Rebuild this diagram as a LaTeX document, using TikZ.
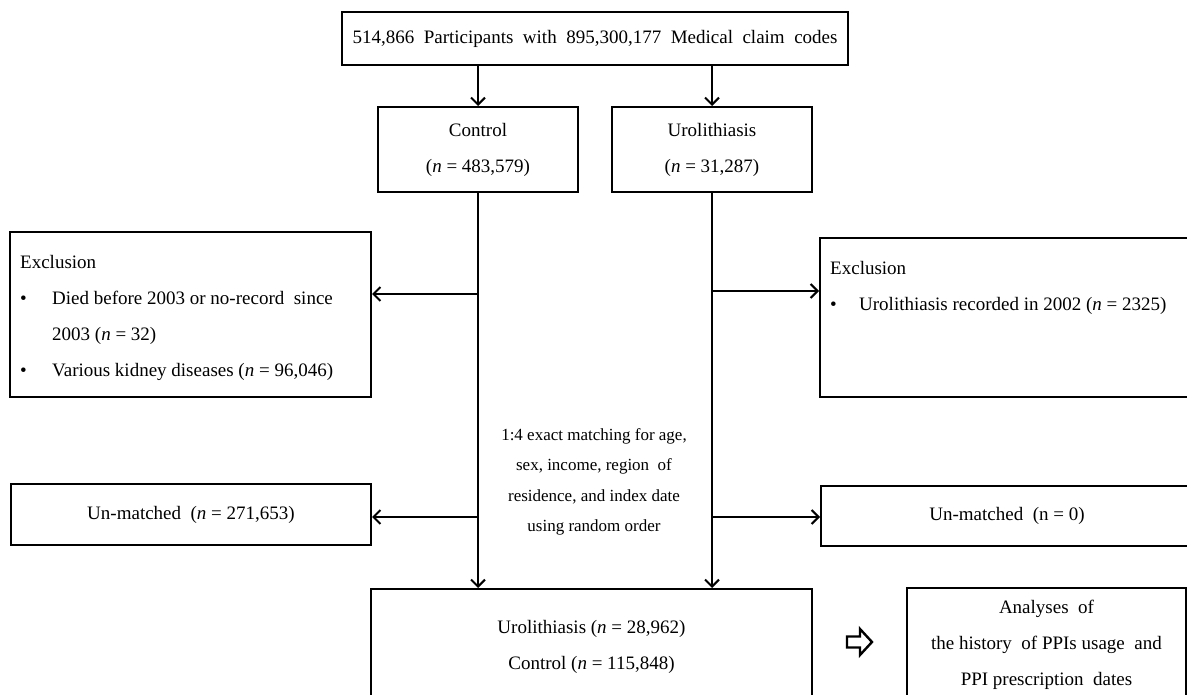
\documentclass[tikz,border=0pt]{standalone}
\usepackage{fontspec}
\setmainfont{Liberation Serif}
\usetikzlibrary{arrows.meta,positioning,calc}

\begin{document}
\begin{tikzpicture}[x=1pt,y=-1pt,
    every node/.style={font=\fontsize{19}{36}\selectfont},
    flowbox/.style={draw,line width=2pt,inner sep=0pt,align=center},
    flowarrow/.style={-{Straight Barb[length=7pt,width=14pt]},line width=2pt}]
  \useasboundingbox (0,0) rectangle (1187,695);
  \clip (0,0) rectangle (1187,695);
  % source and the two groups
  \node[flowbox,minimum width=506pt,minimum height=53pt]
    (src) at (595,38.5) {514,866\ \ Participants\ \ with\ \ 895,300,177\ \ Medical\ \ claim\ \ codes};
  \node[flowbox,minimum width=200pt,minimum height=85pt]
    (ctrl) at (478,149.5) {Control\\(\textit{n} = 483,579)};
  \node[flowbox,minimum width=200pt,minimum height=85pt]
    (uro) at (712,149.5) {Urolithiasis\\(\textit{n} = 31,287)};
  % exclusions
  \node[flowbox,minimum width=361pt,minimum height=165pt] (exL) at (190.5,314.5) {};
  \node[anchor=north west,align=left,inner sep=0pt]
    (exLtext) at ([shift={(11,24)}]exL.north west)
    {Exclusion\\
     \makebox[32pt][l]{\textbullet}Died before 2003 or no-record\ \ since\\
     \hspace*{32pt}2003 (\textit{n} = 32)\\
     \makebox[32pt][l]{\textbullet}Various kidney diseases (\textit{n} = 96,046)};
  \node[flowbox,minimum width=380pt,minimum height=159pt] (exR) at (1010,317.5) {};
  \node[anchor=north west,align=left,inner sep=0pt]
    (exRtext) at ([shift={(11,24)}]exR.north west)
    {Exclusion\\
     \makebox[29pt][l]{\textbullet}Urolithiasis recorded in 2002 (\textit{n} = 2325)};
  % matching
  \node[font=\fontsize{17}{30.5}\selectfont,align=center]
    (match) at (594,482) {1:4 exact matching for age,\\sex, income, region\ \ of\\residence, and index date\\using random order};
  \node[flowbox,minimum width=360pt,minimum height=61pt]
    (unL) at (191,514.5) {Un-matched\ \ (\textit{n} = 271,653)};
  \node[flowbox,minimum width=372pt,minimum height=60pt]
    (unR) at (1007,516) {Un-matched\ \ (n = 0)};
  \node[flowbox,minimum width=441pt,minimum height=115pt]
    (matched) at (591.5,646.5) {Urolithiasis (\textit{n} = 28,962)\\Control (\textit{n} = 115,848)};
  \node[flowbox,minimum width=279pt,minimum height=114pt]
    (ana) at (1046.5,645) {Analyses\ \ of\\the history\ \ of PPIs usage\ \ and\\PPI prescription\ \ dates};
  % hollow arrow
  \coordinate (harr) at (847,642);
  \draw[line width=2.4pt,line join=miter] (harr) ++(0,-5.5) -- ++(13,0) -- ++(0,-7.5)
    -- ++(12,13) -- ++(-12,13) -- ++(0,-7.5) -- ++(-13,0) -- cycle;
  % connectors
  \coordinate (cExcl) at (478,294);
  \coordinate (uExcl) at (712,291);
  \coordinate (cUnm) at (478,517);
  \coordinate (uUnm) at (712,517);
  \draw[flowarrow] (src.south -| ctrl.north) -- (ctrl.north);
  \draw[flowarrow] (src.south -| uro.north) -- (uro.north);
  \draw[flowarrow] (ctrl.south) -- (ctrl.south |- matched.north);
  \draw[flowarrow] (uro.south) -- (uro.south |- matched.north);
  \draw[flowarrow] (cExcl) -- (cExcl -| exL.east);
  \draw[flowarrow] (uExcl) -- (uExcl -| exR.west);
  \draw[flowarrow] (cUnm) -- (cUnm -| unL.east);
  \draw[flowarrow] (uUnm) -- (uUnm -| unR.west);
\end{tikzpicture}
\end{document}
